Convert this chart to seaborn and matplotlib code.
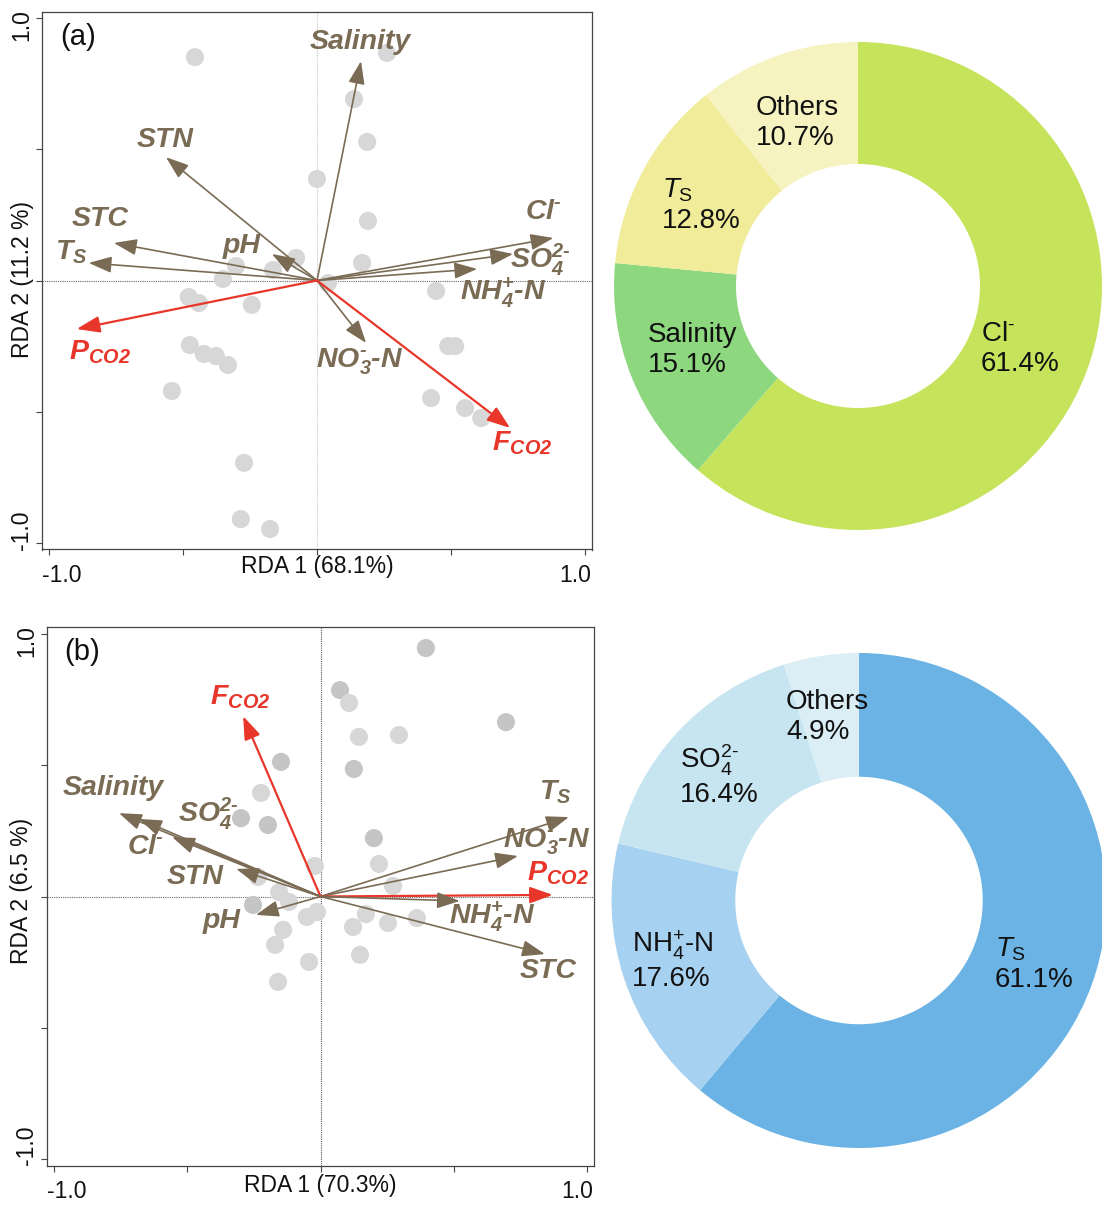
import matplotlib
matplotlib.use("Agg")
import matplotlib.pyplot as plt
import matplotlib.transforms as mtrans
import pandas as pd
import seaborn as sns

# ---------------- panel (a): sample scores ----------------
a_site_x = [-0.455, 0.261, 0.138, 0.187, 0.000, 0.190, 0.168, -0.078, -0.302, -0.164,
            -0.351, 0.041, 0.444, -0.478, -0.440, -0.243, -0.474, -0.422, -0.377, -0.332,
            -0.541, 0.489, 0.515, 0.425, 0.552, 0.612, -0.272, -0.284, -0.175]
a_site_y = [0.851, 0.867, 0.691, 0.528, 0.387, 0.227, 0.067, 0.086, 0.055, 0.040,
            0.006, -0.010, -0.040, -0.063, -0.086, -0.093, -0.246, -0.280, -0.288, -0.322,
            -0.421, -0.250, -0.250, -0.448, -0.486, -0.524, -0.695, -0.909, -0.947]
a_site_shade = ["light"] * len(a_site_x)

# panel (a): variable vectors
a_vars = ["Salinity", "STN", "STC", "Ts", "pH", "Cl", "SO4", "NH4", "NO3", "PCO2", "FCO2"]
a_vec_x = [0.164, -0.563, -0.757, -0.851, -0.168, 0.881, 0.731, 0.597, 0.183, -0.896, 0.720]
a_vec_y = [0.836, 0.470, 0.143, 0.067, 0.101, 0.162, 0.101, 0.044, -0.238, -0.185, -0.562]

# panel (a): explained variance of the axes
a_axis_pct = [68.1, 11.2]

# ---------------- panel (b): sample scores ----------------
b_site_x = [0.395, 0.073, 0.107, 0.144, 0.294, 0.125, 0.695, -0.148, -0.223, -0.298,
            -0.197, 0.200, 0.219, 0.272, -0.021, -0.234, -0.155, -0.118, -0.253, -0.013,
            -0.051, -0.140, -0.170, -0.043, -0.159, 0.170, 0.122, 0.253, 0.361, 0.148]
b_site_y = [0.945, 0.785, 0.736, 0.607, 0.614, 0.485, 0.663, 0.512, 0.394, 0.298,
            0.272, 0.222, 0.124, 0.040, 0.116, 0.074, 0.017, -0.021, -0.032, -0.059,
            -0.078, -0.127, -0.184, -0.249, -0.325, -0.067, -0.116, -0.101, -0.082, -0.222]
b_site_shade = ["dark", "dark", "light", "light", "light", "dark", "dark", "dark", "light", "dark",
                "dark", "dark", "light", "light", "light", "light", "light", "light", "dark", "light",
                "light", "light", "light", "light", "light", "light", "light", "light", "light", "light"]

b_vars = ["FCO2", "Salinity", "SO4", "Cl", "STN", "pH", "Ts", "NO3", "PCO2", "NH4", "STC"]
b_vec_x = [-0.290, -0.755, -0.680, -0.556, -0.316, -0.242, 0.931, 0.740, 0.871, 0.522, 0.841]
b_vec_y = [0.686, 0.317, 0.295, 0.226, 0.105, -0.070, 0.302, 0.154, 0.006, -0.017, -0.219]

b_axis_pct = [70.3, 6.5]

# ---------------- donut charts: contribution of variables ----------------
a_pie_names = ["Cl", "Salinity", "Ts", "Others"]
a_pie_values = [61.4, 15.1, 12.8, 10.7]
b_pie_names = ["Ts", "NH4", "SO4", "Others"]
b_pie_values = [61.1, 17.6, 16.4, 4.9]

# ---------------- styling / layout ----------------
sns.set_style("white")
plt.rcParams["font.family"] = ["Liberation Sans", "DejaVu Sans"]
plt.rcParams["mathtext.fontset"] = "custom"
plt.rcParams["mathtext.rm"] = "Liberation Sans"
plt.rcParams["mathtext.it"] = "Liberation Sans:italic"
plt.rcParams["mathtext.bf"] = "Liberation Sans:bold:italic"

BROWN = "#7a6b55"
RED = "#e8362a"
RESPONSE = ["PCO2", "FCO2"]
HY = "\u2010"  # short hyphen instead of the wide math minus

# bold italic labels for the biplots
VEC_TEX = {
    "Salinity": "Salinity",
    "STN": "STN",
    "STC": "STC",
    "pH": "pH",
    "Ts": r"$\mathbf{T_S}$",
    "Cl": r"$\mathbf{Cl^{" + HY + "}}$",
    "SO4": r"$\mathbf{SO_4^{2" + HY + "}}$",
    "NH4": r"$\mathbf{NH_4^{+}" + HY + "N}$",
    "NO3": r"$\mathbf{NO_3^{" + HY + "}" + HY + "N}$",
    "PCO2": r"$\mathbf{P_{CO2}}$",
    "FCO2": r"$\mathbf{F_{CO2}}$",
}
# regular labels for the donuts
PIE_TEX = {
    "Cl": r"$\mathrm{Cl^{" + HY + "}}$",
    "Salinity": "Salinity",
    "Ts": r"$\mathit{T}_\mathrm{S}$",
    "Others": "Others",
    "NH4": r"$\mathrm{NH_4^{+}" + HY + "N}$",
    "SO4": r"$\mathrm{SO_4^{2" + HY + "}}$",
}

# label positions (data units of each biplot)
a_label_xy = {"Salinity": (0.160, 0.909), "STN": (-0.567, 0.535), "STC": (-0.810, 0.234),
              "Ts": (-0.914, 0.109), "pH": (-0.280, 0.131), "Cl": (0.843, 0.261),
              "SO4": (0.832, 0.078), "NH4": (0.694, -0.048), "NO3": (0.160, -0.310),
              "PCO2": (-0.810, -0.272), "FCO2": (0.765, -0.619)}
b_label_xy = {"FCO2": (-0.301, 0.759), "Salinity": (-0.777, 0.413), "SO4": (-0.421, 0.317),
              "Cl": (-0.657, 0.188), "STN": (-0.470, 0.074), "pH": (-0.369, -0.093),
              "Ts": (0.882, 0.397), "NO3": (0.848, 0.207), "PCO2": (0.890, 0.089),
              "NH4": (0.642, -0.078), "STC": (0.852, -0.283)}

# donut label anchors (left edge, vertical centre) in radius units
a_pie_xy = [(0.504, -0.258), (-0.861, -0.262), (-0.803, 0.332), (-0.418, 0.668)]
b_pie_xy = [(0.549, -0.257), (-0.917, -0.244), (-0.723, 0.507), (-0.295, 0.741)]

W, H = 1102, 1205
fig = plt.figure(figsize=(W / 100, H / 100), dpi=100)


def shift(txt, dx, dy):
    txt.set_transform(txt.get_transform() +
                      mtrans.ScaledTranslation(dx / 100, dy / 100, fig.dpi_scale_trans))


def biplot(ax, sx, sy, shade, names, vx, vy, label_xy, pct, tag, vline_col,
           xshift, yshift, ylab_x, ylab_y, xlab_y):
    df = pd.DataFrame({"RDA1": sx, "RDA2": sy, "shade": shade})
    sns.scatterplot(data=df, x="RDA1", y="RDA2", hue="shade",
                    palette={"light": "#d7d7d7", "dark": "#c5c5c5"},
                    s=170, edgecolor="none", legend=False, ax=ax, zorder=1)
    ax.axvline(0, color=vline_col, lw=0.8, ls=(0, (1, 1)), zorder=0)
    ax.axhline(0, color="#666666", lw=0.8, ls=(0, (1, 1)), zorder=0)

    for name, x, y in zip(names, vx, vy):
        col = RED if name in RESPONSE else BROWN
        ax.annotate("", xy=(x, y), xytext=(0, 0),
                    arrowprops=dict(arrowstyle="-|>,head_length=0.7,head_width=0.25",
                                    color=col, lw=1.6 if name in RESPONSE else 1.2,
                                    shrinkA=0, shrinkB=0, mutation_scale=20),
                    zorder=3)
        lx, ly = label_xy[name]
        ax.text(lx, ly, VEC_TEX[name], color=col, fontsize=20.5, fontweight="bold",
                style="italic", ha="center", va="center", zorder=4)

    ax.set_xlim(-1.025, 1.025)
    ax.set_ylim(-1.025, 1.025)
    ticks = [-1, -0.5, 0, 0.5, 1]
    ax.set_xticks(ticks)
    ax.set_xticklabels(["-1.0", "", "", "", "1.0"])
    ax.set_yticks(ticks)
    ax.set_yticklabels(["-1.0", "", "", "", "1.0"])
    ax.tick_params(direction="out", length=4.3, width=0.8, color="#444444",
                   labelsize=16.5, labelcolor="#111111", bottom=True, left=True)
    ax.tick_params(axis="x", pad=6)
    ax.tick_params(axis="y", pad=2, labelrotation=90)
    for lab in ax.get_yticklabels():
        lab.set_va("center")
    xl = ax.get_xticklabels()
    shift(xl[0], xshift[0], 0)
    shift(xl[-1], xshift[1], 0)
    yl = ax.get_yticklabels()
    shift(yl[0], 0, yshift[0])
    shift(yl[-1], 0, yshift[1])

    ax.set_xlabel("")
    ax.set_ylabel("")
    ax.text(0.5, xlab_y, f"RDA 1 ({pct[0]}%)", transform=ax.transAxes,
            ha="center", va="center", fontsize=16.5, color="#111111")
    ax.text(ylab_x, ylab_y, f"RDA 2 ({pct[1]} %)", transform=ax.transAxes, rotation=90,
            ha="center", va="center", fontsize=16.5, color="#111111")
    ax.text(0.065, 0.953, tag, transform=ax.transAxes, ha="center", va="center",
            fontsize=21, color="#111111")
    for sp in ax.spines.values():
        sp.set_color("#444444")
        sp.set_linewidth(0.9)


def donut(ax, names, values, colors, pos):
    ax.pie(values, colors=colors, startangle=90, counterclock=False, radius=1,
           wedgeprops=dict(width=0.5, edgecolor="none", linewidth=0))
    for name, v, (x, y) in zip(names, values, pos):
        ax.text(x, y, f"{PIE_TEX[name]}\n{v:.1f}%", ha="left", va="center",
                fontsize=20, color="#111111", multialignment="left")
    ax.set_xlim(-1, 1)
    ax.set_ylim(-1, 1)
    ax.set_aspect("equal")
    ax.set_axis_off()


ax_a = fig.add_axes([42 / W, 1 - 549.5 / H, 550 / W, 538 / H])
ax_b = fig.add_axes([47 / W, 1 - 1166 / H, 547 / W, 539 / H])
pie_a = fig.add_axes([614 / W, 1 - 530 / H, 488 / W, 488 / H])
pie_b = fig.add_axes([611.5 / W, 1 - 1148 / H, 495 / W, 495 / H])

biplot(ax_a, a_site_x, a_site_y, a_site_shade, a_vars, a_vec_x, a_vec_y, a_label_xy,
       a_axis_pct, "(a)", "#c8c8c8", (13, -10), (13, -7), -0.036, 0.501, -0.0325)
biplot(ax_b, b_site_x, b_site_y, b_site_shade, b_vars, b_vec_x, b_vec_y, b_label_xy,
       b_axis_pct, "(b)", "#555555", (13.5, -10.5), (14, -7.5), -0.046, 0.51, -0.037)

donut(pie_a, a_pie_names, a_pie_values,
      ["#c6e35c", "#8dd77f", "#f0ec9a", "#f6f3c1"], a_pie_xy)
donut(pie_b, b_pie_names, b_pie_values,
      ["#6ab3e4", "#a7d1f0", "#c7e5f0", "#dbeef6"], b_pie_xy)

fig.savefig("out.png", dpi=100)
